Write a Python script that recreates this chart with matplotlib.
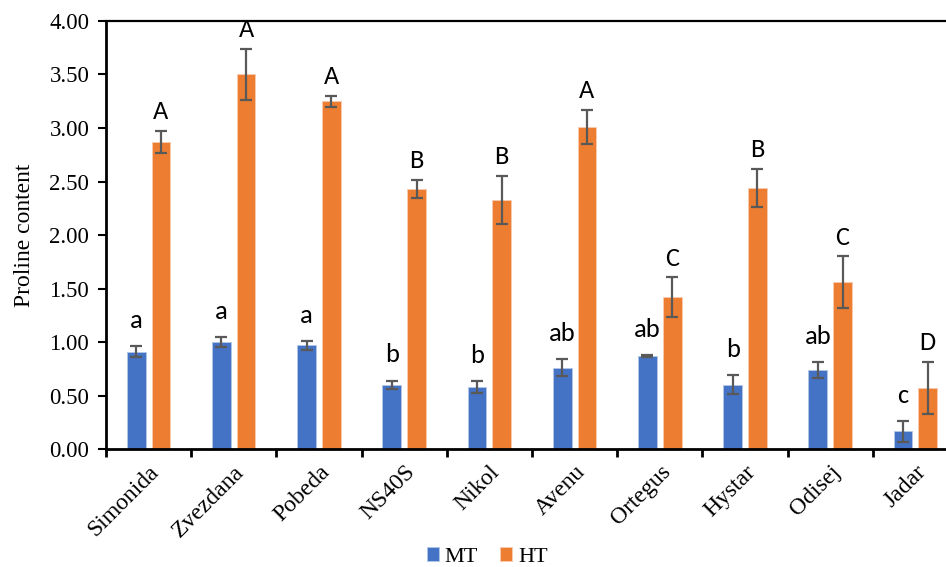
import numpy as np
import matplotlib
matplotlib.use("Agg")
import matplotlib.pyplot as plt

cultivars = ["Simonida", "Zvezdana", "Pobeda", "NS40S", "Nikol",
             "Avenu", "Ortegus", "Hystar", "Odisej", "Jadar"]
mt = [0.91, 1.00, 0.97, 0.60, 0.58, 0.76, 0.87, 0.60, 0.735, 0.165]
mt_err = [0.05, 0.045, 0.04, 0.04, 0.055, 0.08, 0.01, 0.09, 0.075, 0.095]
ht = [2.87, 3.50, 3.25, 2.43, 2.33, 3.01, 1.42, 2.44, 1.56, 0.57]
ht_err = [0.10, 0.24, 0.05, 0.085, 0.225, 0.16, 0.185, 0.175, 0.24, 0.245]
mt_letters = ["a", "a", "a", "b", "b", "ab", "ab", "b", "ab", "c"]
ht_letters = ["A", "A", "A", "B", "B", "A", "C", "B", "C", "D"]

serif = "Liberation Serif"
sans = ["Carlito", "DejaVu Sans"]

fig = plt.figure(figsize=(9.46, 5.67), dpi=100)
ax = fig.add_axes([0.112, 0.208, 0.9007, 0.755])

x = np.arange(len(cultivars))
w = 0.22
off = 0.145
ekw = dict(ecolor="#595959", elinewidth=1.6, capsize=4.5, capthick=1.6)
ax.bar(x - off, mt, w, yerr=mt_err, color="#4472C4", edgecolor="#b4c7e7",
       linewidth=0.6, label="MT", error_kw=ekw, zorder=2)
ax.bar(x + off, ht, w, yerr=ht_err, color="#ED7D31", edgecolor="#f8cbad",
       linewidth=0.6, label="HT", error_kw=ekw, zorder=2)

for i in range(len(cultivars)):
    ax.text(x[i] - off, mt[i] + mt_err[i] + 0.17, mt_letters[i], ha="center",
            va="baseline", fontsize=19, family=sans)
    ax.text(x[i] + off, ht[i] + ht_err[i] + 0.11, ht_letters[i], ha="center",
            va="baseline", fontsize=19, family=sans)

ax.set_xlim(-0.5, len(cultivars) - 0.5)
ax.set_ylim(0, 4.0)
ax.set_yticks(np.arange(0, 4.01, 0.5))
ax.set_yticklabels([f"{v:.2f}" for v in np.arange(0, 4.01, 0.5)],
                   fontsize=16.5, family=serif)
ax.set_xticks(x)
ax.set_xticklabels(cultivars, rotation=45, ha="right", rotation_mode="anchor",
                   fontsize=17, family=serif)
ax.set_xticks(np.arange(-0.5, len(cultivars)), minor=True)
ax.tick_params(axis="x", which="major", length=0, pad=9)
ax.tick_params(axis="x", which="minor", length=6, width=2, direction="out")
ax.tick_params(axis="y", length=6, width=1.5, direction="out", pad=6)
ax.set_ylabel("Proline content", fontsize=17, family=serif, labelpad=10)

for s in ax.spines.values():
    s.set_color("black")
    s.set_linewidth(1.6)
ax.spines["left"].set_linewidth(2)
ax.spines["bottom"].set_linewidth(2)

fig.legend(loc="lower center", bbox_to_anchor=(0.515, -0.035), ncol=2,
           frameon=False, prop={"family": serif, "size": 16},
           handlelength=0.55, handleheight=0.55, handletextpad=0.25,
           columnspacing=1.0)

fig.savefig("out.png", dpi=100)
